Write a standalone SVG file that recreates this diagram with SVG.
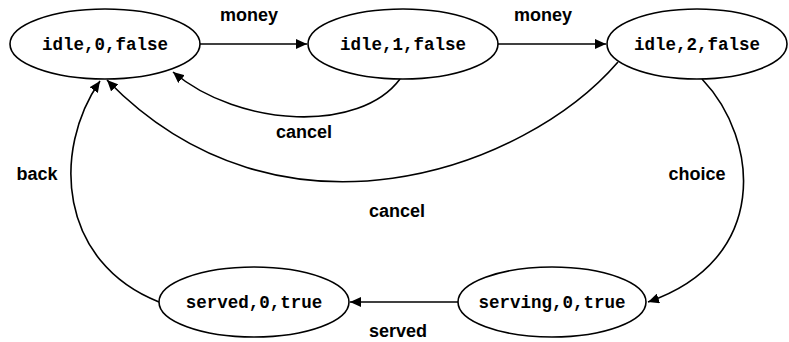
<svg xmlns="http://www.w3.org/2000/svg" width="789" height="342" viewBox="0 0 789 342">
<style>
.node ellipse{fill:#fff;stroke:#000;stroke-width:1.6}
.node text{font-family:"Liberation Mono",monospace;font-weight:bold;font-size:17.5px;text-anchor:middle;fill:#000}
.edge{fill:none;stroke:#000;stroke-width:1.6;marker-end:url(#arr)}
.lbl{font-family:"Liberation Sans",Arial,sans-serif;font-weight:bold;font-size:18px;text-anchor:middle;fill:#000}
</style>
<defs>
<marker id="arr" markerUnits="userSpaceOnUse" markerWidth="12" markerHeight="10" refX="11" refY="5" orient="auto">
<path d="M0,0 L11,5 L0,10 Z" fill="#000"/>
</marker>
</defs>
<rect width="789" height="342" fill="#fff"/>
<g id="connectors">
<path class="edge" d="M200,44 L307,44"/>
<path class="edge" d="M498,44 L606,44"/>
<path class="edge" d="M400,79 C360,133 240,128 173,72"/>
<path class="edge" d="M618,62 C525,170 280,258 107,80"/>
<path class="edge" d="M159,302 C58,262 52,150 100,81"/>
<path class="edge" d="M702,79 C760,140 770,260 648,302"/>
<path class="edge" d="M458,302 L350,302"/>
<text class="lbl" x="249" y="21">money</text>
<text class="lbl" x="543" y="21">money</text>
<text class="lbl" x="304" y="138">cancel</text>
<text class="lbl" x="397" y="217">cancel</text>
<text class="lbl" x="37" y="180">back</text>
<text class="lbl" x="697" y="180">choice</text>
<text class="lbl" x="398" y="337">served</text>
</g>
<g id="n1" class="node"><ellipse cx="105" cy="44" rx="95" ry="35"/><text x="105" y="50">idle,0,false</text></g>
<g id="n2" class="node"><ellipse cx="403" cy="44" rx="95" ry="35"/><text x="403" y="50">idle,1,false</text></g>
<g id="n3" class="node"><ellipse cx="697" cy="44" rx="90" ry="35"/><text x="697" y="50">idle,2,false</text></g>
<g id="n4" class="node"><ellipse cx="552" cy="302" rx="94" ry="35"/><text x="552" y="308">serving,0,true</text></g>
<g id="n5" class="node"><ellipse cx="254" cy="302" rx="95" ry="35"/><text x="254" y="308">served,0,true</text></g>
</svg>
